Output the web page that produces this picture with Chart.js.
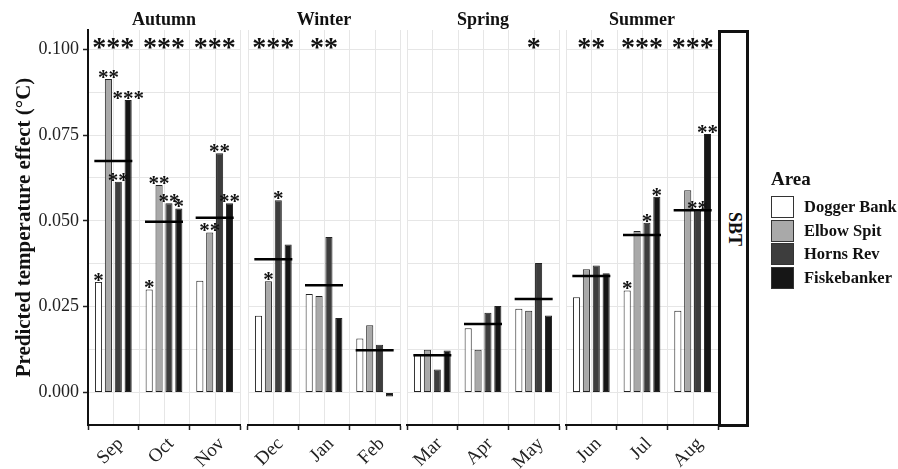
<!DOCTYPE html>
<html>
<head>
<meta charset="utf-8">
<script src="https://cdn.jsdelivr.net/npm/chart.js@4.4.1/dist/chart.umd.min.js"></script>
<style>
  body { margin: 0; background: #fff; }
  #wrap { position: relative; width: 898px; height: 469px; overflow: hidden; font-family: "Liberation Serif", "Times New Roman", serif; }
  #wrap canvas { position: absolute; left: 0; top: 0; }
  #strip { position: absolute; left: 718px; top: 30px; width: 25px; height: 391px; border: 3px solid #111; background: #fff; }
  #strip span { position: absolute; left: 50%; top: 50%; transform: translate(-50%, -50%) rotate(90deg); font-weight: bold; font-size: 18px; white-space: nowrap; color: #111; }
  #legend { position: absolute; left: 771px; top: 168px; color: #111; }
  #legend .ttl { position: absolute; left: 0; top: 0; font-weight: bold; font-size: 19px; white-space: nowrap; }
  #legend .key { position: absolute; left: 0; width: 23px; height: 22px; box-sizing: border-box; border: 1px solid #333; }
  #legend .lab { position: absolute; left: 33px; font-weight: bold; font-size: 16.5px; line-height: 22px; white-space: nowrap; }
</style>
</head>
<body>
<div id="wrap">
  <div id="strip"><span>SBT</span></div>
  <div id="legend"><div class="ttl">Area</div></div>
</div>
<script>
// months in plotting order, three per season
const months = ["Sep", "Oct", "Nov", "Dec", "Jan", "Feb", "Mar", "Apr", "May", "Jun", "Jul", "Aug"];
const seasons = ["Autumn", "Winter", "Spring", "Summer"];
const areas = ["Dogger Bank", "Elbow Spit", "Horns Rev", "Fiskebanker"];

// predicted temperature effect per area
const doggerBank  = [0.0322, 0.0300, 0.0325, 0.0223, 0.0287, 0.0157, 0.0108, 0.0187, 0.0244, 0.0277, 0.0297, 0.0238];
const elbowSpit   = [0.0913, 0.0604, 0.0466, 0.0324, 0.0281, 0.0196, 0.0124, 0.0124, 0.0238, 0.0359, 0.0470, 0.0589];
const hornsRev    = [0.0614, 0.0551, 0.0697, 0.0560, 0.0453, 0.0139, 0.0067, 0.0232, 0.0377, 0.0370, 0.0494, 0.0531];
const fiskebanker = [0.0852, 0.0536, 0.0551, 0.0431, 0.0217, -0.0012, 0.0122, 0.0252, 0.0224, 0.0347, 0.0570, 0.0753];
const meanEffect  = [0.0674, 0.0497, 0.0509, 0.0388, 0.0312, 0.0123, 0.0108, 0.0199, 0.0272, 0.0339, 0.0459, 0.0531];

// significance stars per bar and per month
const doggerStars = ["*", "*", "", "", "", "", "", "", "", "", "*", ""];
const elbowStars  = ["**", "**", "**", "*", "", "", "", "", "", "", "", ""];
const hornsStars  = ["**", "**", "**", "*", "", "", "", "", "", "", "*", "**"];
const fiskeStars  = ["***", "*", "**", "", "", "", "", "", "", "", "*", "**"];
const monthStars  = ["***", "***", "***", "***", "**", "", "", "", "*", "**", "***", "***"];

const yTicks = [0, 0.025, 0.05, 0.075, 0.1];
const yGrid = [0, 0.0125, 0.025, 0.0375, 0.05, 0.0625, 0.075, 0.0875, 0.1];

const series = [doggerBank, elbowSpit, hornsRev, fiskebanker];
const barStars = [doggerStars, elbowStars, hornsStars, fiskeStars];
const fills = ["#ffffff", "#a9a9a9", "#3d3d3d", "#161616"];

const panelLefts = [88, 248, 407, 566];
const panelWidth = 152;
const serif = '"Liberation Serif", "Times New Roman", serif';

Chart.defaults.font.family = serif;

const wrap = document.getElementById("wrap");

// vertical grid lines at month centres and halfway between
function gridPlugin(p) {
  return {
    id: "vgrid" + p,
    beforeDraw(chart) {
      const ctx = chart.ctx, xs = chart.scales.x, area = chart.chartArea;
      const step = xs.getPixelForValue(1) - xs.getPixelForValue(0);
      ctx.save();
      ctx.strokeStyle = "#e6e6e6";
      ctx.lineWidth = 1;
      for (let j = 0; j < 3; j++) {
        const c = xs.getPixelForValue(j);
        [c - step / 2, c, c + step / 2].forEach(function (x) {
          if (p === 0 && x < area.left + 2) return;
          ctx.beginPath();
          ctx.moveTo(Math.round(x) + 0.5, area.top);
          ctx.lineTo(Math.round(x) + 0.5, area.bottom);
          ctx.stroke();
        });
      }
      ctx.restore();
    }
  };
}

function starPlugin(p) {
  const from = p * 3;
  return {
    id: "stars" + p,
    afterDatasetsDraw(chart) {
      const ctx = chart.ctx, xs = chart.scales.x, area = chart.chartArea;
      ctx.save();
      ctx.fillStyle = "#111";
      ctx.textAlign = "center";
      ctx.textBaseline = "alphabetic";
      ctx.font = "bold 21px " + serif;
      for (let i = 0; i < 4; i++) {
        const meta = chart.getDatasetMeta(i);
        meta.data.forEach(function (bar, j) {
          const s = barStars[i][from + j];
          if (s) ctx.fillText(s, bar.x, bar.y + 5);
        });
      }
      ctx.font = "bold 28px " + serif;
      for (let j = 0; j < 3; j++) {
        const s = monthStars[from + j];
        if (s) ctx.fillText(s, xs.getPixelForValue(j), 56);
      }
      // season strip label
      ctx.font = "bold 18px " + serif;
      ctx.fillText(seasons[p], (area.left + area.right) / 2, 25);
      ctx.restore();
    }
  };
}

function makePanel(p) {
  const from = p * 3, to = from + 3;
  const first = p === 0;
  const canvas = document.createElement("canvas");
  canvas.width = 898;
  canvas.height = 469;
  wrap.insertBefore(canvas, wrap.firstChild);

  const datasets = areas.map(function (a, i) {
    return {
      label: a,
      data: series[i].slice(from, to),
      backgroundColor: fills[i],
      borderColor: "#222",
      borderWidth: 1,
      borderSkipped: false,
      categoryPercentage: 0.78,
      barPercentage: 0.72,
      order: 1
    };
  });
  datasets.push({
    type: "line",
    label: "Mean",
    data: meanEffect.slice(from, to),
    showLine: false,
    pointStyle: "line",
    pointRadius: 19,
    pointBorderWidth: 2.5,
    pointBorderColor: "#000",
    borderColor: "#000",
    order: 0
  });

  new Chart(canvas, {
    type: "bar",
    data: { labels: months.slice(from, to), datasets: datasets },
    options: {
      responsive: false,
      animation: false,
      events: [],
      layout: {
        padding: { left: first ? 0 : panelLefts[p], right: 898 - panelLefts[p] - panelWidth, top: 30, bottom: 0 }
      },
      plugins: { legend: { display: false }, tooltip: { enabled: false } },
      scales: {
        x: {
          grid: { drawOnChartArea: false, tickLength: 5, tickColor: "#222", tickWidth: 1.5 },
          border: { color: "#111", width: 2 },
          ticks: { font: { size: 19 }, color: "#222", minRotation: 45, maxRotation: 45, autoSkip: false, padding: 3, labelOffset: 7 },
          afterFit: function (s) { s.height = 44; }
        },
        y: {
          min: -0.0095,
          max: 0.1056,
          afterBuildTicks: function (s) { s.ticks = yGrid.map(function (v) { return { value: v }; }); },
          grid: {
            color: "#e6e6e6",
            drawTicks: first,
            tickLength: 5,
            tickWidth: 1.5,
            tickColor: function (c) { return yTicks.includes(c.tick.value) ? "#222" : "rgba(0,0,0,0)"; }
          },
          border: { display: first, color: "#111", width: 2 },
          ticks: {
            display: first,
            font: { size: 18 },
            color: "#222",
            padding: 4,
            callback: function (v) { return yTicks.includes(v) ? v.toFixed(3) : ""; }
          },
          title: {
            display: first,
            text: "Predicted temperature effect (\u00B0C)",
            font: { size: 21, weight: "bold" },
            color: "#111",
            padding: { top: 12, bottom: 0 }
          },
          afterFit: function (s) { s.width = first ? 88 : 0; }
        }
      }
    },
    plugins: [gridPlugin(p), starPlugin(p)]
  });
}

for (let p = 0; p < 4; p++) makePanel(p);

// legend
const legend = document.getElementById("legend");
areas.forEach(function (a, i) {
  const top = 28 + i * 23.7;
  const key = document.createElement("div");
  key.className = "key";
  key.style.top = top + "px";
  key.style.background = fills[i];
  legend.appendChild(key);
  const lab = document.createElement("div");
  lab.className = "lab";
  lab.style.top = top + "px";
  lab.textContent = a;
  legend.appendChild(lab);
});
</script>
</body>
</html>
